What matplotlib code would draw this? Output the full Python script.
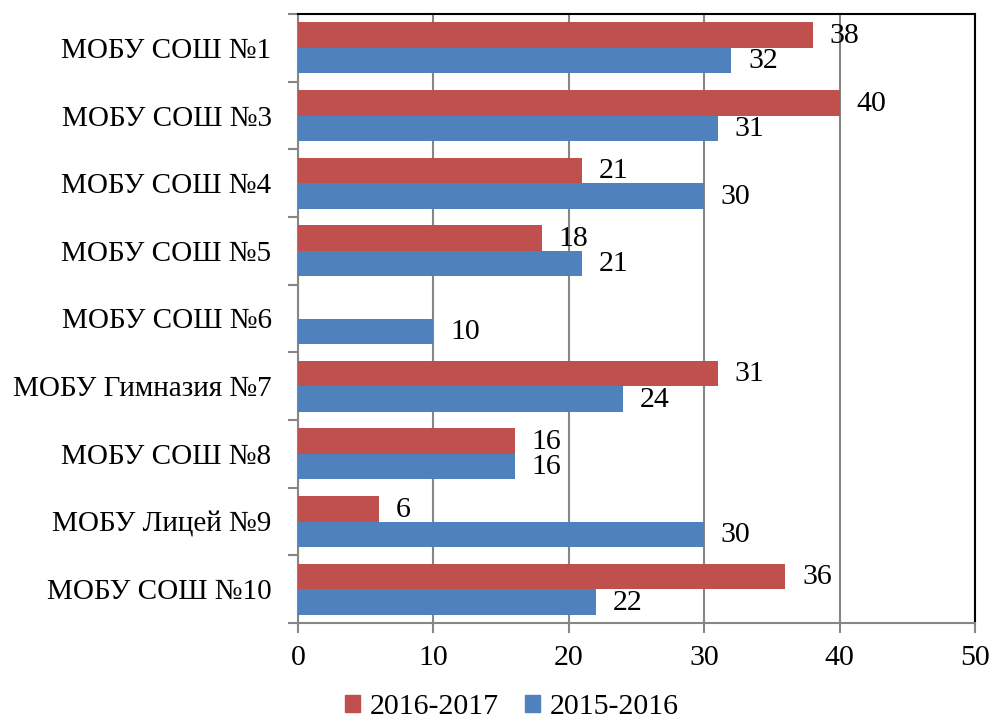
import matplotlib
matplotlib.use("Agg")
import matplotlib.pyplot as plt
import numpy as np
from matplotlib.patches import Patch

categories = ["МОБУ СОШ №1", "МОБУ СОШ №3", "МОБУ СОШ №4", "МОБУ СОШ №5", "МОБУ СОШ №6",
              "МОБУ Гимназия №7", "МОБУ СОШ №8", "МОБУ Лицей №9", "МОБУ СОШ №10"]
s2016 = [38, 40, 21, 18, None, 31, 16, 6, 36]
s2015 = [32, 31, 30, 21, 10, 24, 16, 30, 22]
series_names = ["2016-2017", "2015-2016"]
xticks = [0, 10, 20, 30, 40, 50]

plt.rcParams['font.family'] = ['Liberation Serif', 'DejaVu Serif']

red = "#C0504D"
blue = "#4F81BD"

fig = plt.figure(figsize=(9.92, 7.24), dpi=100)
ax = fig.add_axes([298/992, 1-623/724, (975-298)/992, (623-14)/724])

n = len(categories)
y = np.arange(n)
h = 0.375
fs_num = 21.5
fs_cat = 21

for i in range(n):
    if s2016[i] is not None:
        ax.barh(y[i] - h/2, s2016[i], height=h, color=red, zorder=3)
        ax.annotate(str(s2016[i]), (s2016[i], y[i] - h/2), xytext=(12, -0.5),
                    textcoords="offset points", va="center", ha="left", fontsize=fs_num, zorder=4)
    ax.barh(y[i] + h/2, s2015[i], height=h, color=blue, zorder=3)
    ax.annotate(str(s2015[i]), (s2015[i], y[i] + h/2), xytext=(12, -0.5),
                textcoords="offset points", va="center", ha="left", fontsize=fs_num, zorder=4)

ax.set_xlim(0, 50)
ax.set_ylim(n - 0.5, -0.5)
ax.set_xticks(xticks)
ax.set_xticklabels([str(t) for t in xticks], fontsize=fs_num)
ax.set_yticks(y)
ax.set_yticklabels(categories, fontsize=fs_cat)
ax.set_yticks(np.arange(-0.5, n, 1), minor=True)
ax.tick_params(axis='y', which='major', length=0, pad=19)
ax.tick_params(axis='y', which='minor', length=7, color="#868686", width=1.5)
ax.tick_params(axis='x', which='major', length=7, color="#868686", width=1.5, pad=9)

ax.grid(axis='x', color="#868686", linewidth=1.5, zorder=0)
for side in ['left', 'bottom']:
    ax.spines[side].set_color("#868686")
    ax.spines[side].set_linewidth(1.5)
for side in ['top', 'right']:
    ax.spines[side].set_color("black")
    ax.spines[side].set_linewidth(1.5)

handles = [Patch(color=red), Patch(color=blue)]
fig.legend(handles, series_names, loc="center", bbox_to_anchor=(0.516, 1-707/724),
           ncol=2, frameon=False, fontsize=fs_num, handlelength=0.5, handleheight=0.5,
           handletextpad=0.3, columnspacing=0.9, borderpad=0)

fig.savefig("out.png", dpi=100)
